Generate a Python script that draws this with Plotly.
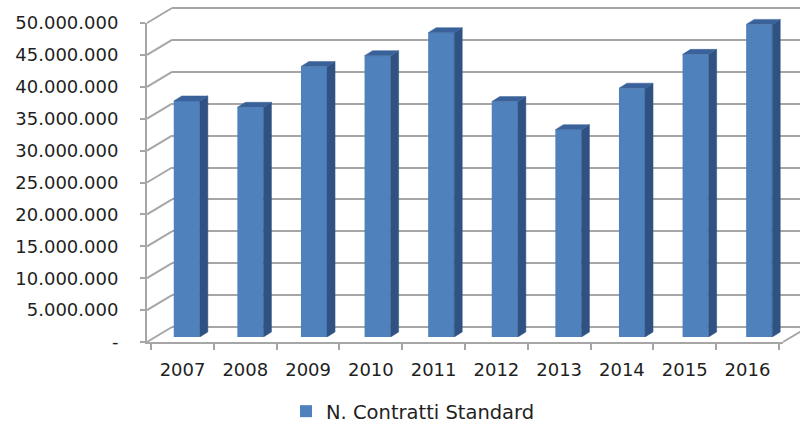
import plotly.graph_objects as go

years = ["2007", "2008", "2009", "2010", "2011", "2012", "2013", "2014", "2015", "2016"]
contratti = [37.0e6, 36.0e6, 42.4e6, 44.1e6, 47.7e6, 36.9e6, 32.5e6, 39.0e6, 44.3e6, 49.0e6]
series_name = "N. Contratti Standard"
tick_values = [0, 5e6, 10e6, 15e6, 20e6, 25e6, 30e6, 35e6, 40e6, 45e6, 50e6]
tick_labels = ["-", "5.000.000", "10.000.000", "15.000.000", "20.000.000", "25.000.000",
               "30.000.000", "35.000.000", "40.000.000", "45.000.000", "50.000.000"]

W, H = 800, 431
VMAX = 50e6

# geometry of the oblique (Excel-like 3D) projection, in pixels
FRONT_L, FRONT_R, FRONT_BOT, FRONT_TOP = 147, 783, 342, 23
DEPTH_DX, DEPTH_DY = 25, -15
BAR_DX, BAR_DY = 8, -5          # bar front plane offset from front plane
SIDE_DX, SIDE_DY = 8, -5        # bar depth
BAR_W = 0.41

GRID = "#A6A6A6"
TXT = "#1F1F1F"
FONT = "DejaVu Sans"


def fx(px):
    return px / W


def fy(py):
    return 1 - py / H


n = len(years)
cat_px = (FRONT_R - FRONT_L) / n
px_per_val = (FRONT_BOT - FRONT_TOP) / VMAX


def y_front(v):
    return FRONT_BOT - v * px_per_val


def y_back(v):
    return FRONT_BOT + DEPTH_DY - v * px_per_val


fig = go.Figure()

# left side-wall diagonals and floor right edge (pixel overlay axes x3/y3)
lx, ly = [], []
for v in tick_values:
    lx += [FRONT_L, FRONT_L + DEPTH_DX, None]
    ly += [y_front(v), y_back(v), None]
lx += [FRONT_R, FRONT_R + DEPTH_DX, None]
ly += [y_front(0), y_back(0), None]
fig.add_trace(go.Scatter(x=lx, y=ly, mode="lines", line=dict(color=GRID, width=2),
                         xaxis="x3", yaxis="y3", showlegend=False, hoverinfo="skip"))

# invisible trace to activate back-wall axes
fig.add_trace(go.Scatter(x=[0], y=[0], mode="markers", marker=dict(opacity=0),
                         xaxis="x2", yaxis="y2", showlegend=False, hoverinfo="skip"))

# invisible trace to activate front axes
fig.add_trace(go.Scatter(x=years, y=[0] * n, mode="markers", marker=dict(opacity=0),
                         xaxis="x", yaxis="y", showlegend=False, hoverinfo="skip"))

# bars front faces
xi = list(range(n))
fig.add_trace(go.Bar(x=xi, y=contratti, width=BAR_W, name=series_name,
                     marker=dict(color="#4F81BD", line=dict(width=0)),
                     xaxis="x4", yaxis="y4", showlegend=True))

dxc = SIDE_DX / cat_px
dyv = -SIDE_DY / px_per_val
sx, sy, tx, ty = [], [], [], []
for i, v in zip(xi, contratti):
    r = i + BAR_W / 2
    l = i - BAR_W / 2
    sx += [r, r + dxc, r + dxc, r, r, None]
    sy += [0, dyv, v + dyv, v, 0, None]
    tx += [l, r, r + dxc, l + dxc, l, None]
    ty += [v, v, v + dyv, v + dyv, v, None]
fig.add_trace(go.Scatter(x=sx, y=sy, mode="lines", fill="toself", fillcolor="#2F5282",
                         line=dict(width=0.5, color="#2F5282"), xaxis="x4", yaxis="y4",
                         showlegend=False, hoverinfo="skip"))
fig.add_trace(go.Scatter(x=tx, y=ty, mode="lines", fill="toself", fillcolor="#3A629A",
                         line=dict(width=0.5, color="#3A629A"), xaxis="x4", yaxis="y4",
                         showlegend=False, hoverinfo="skip"))

pad = VMAX * 0.004
fig.update_layout(
    width=W, height=H,
    margin=dict(l=0, r=0, t=0, b=0, autoexpand=False),
    paper_bgcolor="white", plot_bgcolor="rgba(0,0,0,0)",
    font=dict(family=FONT, size=18, color=TXT),
    showlegend=True,
    legend=dict(orientation="h", x=fx(286), xanchor="left", y=0, yanchor="bottom",
                font=dict(family=FONT, size=19.5, color=TXT), bgcolor="rgba(0,0,0,0)",
                itemwidth=30),
    # front axes: labels, ticks, front edges
    xaxis=dict(domain=[fx(FRONT_L), fx(FRONT_R)], type="category", tickson="boundaries",
               ticks="outside", ticklen=6, tickcolor=GRID, tickwidth=2, automargin=False,
               showline=True, linecolor=GRID, linewidth=2, showgrid=False,
               ticklabelstandoff=10, tickfont=dict(size=18, color=TXT), fixedrange=True),
    yaxis=dict(domain=[fy(FRONT_BOT), fy(FRONT_TOP)], range=[0, VMAX], anchor="x",
               tickvals=tick_values, ticktext=tick_labels, ticks="outside", ticklen=5,
               tickcolor=GRID, tickwidth=2, showline=True, linecolor=GRID, linewidth=2,
               showgrid=False, zeroline=False, ticklabelstandoff=18, automargin=False,
               tickfont=dict(size=18, color=TXT), fixedrange=True),
    # back wall
    xaxis2=dict(domain=[fx(FRONT_L + DEPTH_DX), 1], range=[0, 1], visible=False,
                anchor="y2", fixedrange=True, automargin=False),
    yaxis2=dict(domain=[fy(FRONT_BOT + DEPTH_DY + pad * px_per_val),
                        min(1, fy(FRONT_TOP + DEPTH_DY - pad * px_per_val))],
                range=[-pad, VMAX + pad], anchor="x2", tickvals=tick_values,
                showticklabels=False, ticks="", showgrid=True, gridcolor=GRID, gridwidth=2,
                zeroline=False, showline=False, fixedrange=True, automargin=False),
    # pixel overlay
    xaxis3=dict(domain=[0, 1], range=[0, W], visible=False, anchor="y3", fixedrange=True,
                automargin=False),
    yaxis3=dict(domain=[0, 1], range=[H, 0], visible=False, anchor="x3", fixedrange=True,
                automargin=False),
    # bars plane
    xaxis4=dict(domain=[fx(FRONT_L + BAR_DX), fx(FRONT_R + BAR_DX)], range=[-0.5, n - 0.5],
                visible=False, anchor="y4", fixedrange=True, automargin=False),
    yaxis4=dict(domain=[fy(FRONT_BOT + BAR_DY), fy(FRONT_TOP + BAR_DY)], range=[0, VMAX],
                visible=False, anchor="x4", fixedrange=True, automargin=False),
)

fig.write_html("out.html", config={"displayModeBar": False},
               post_script="document.body.style.margin='0';document.body.style.overflow='hidden';")
